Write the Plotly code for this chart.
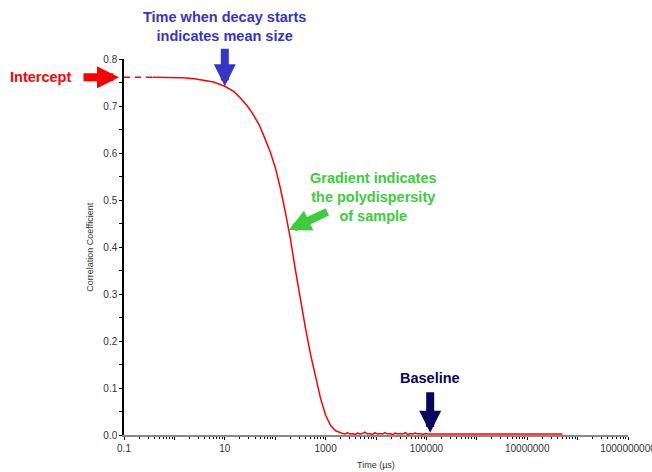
import plotly.graph_objects as go

# Correlogram: correlation coefficient versus delay time (µs)
time_us = [0.37, 0.6, 1.0, 1.5, 2.5, 4, 6, 10, 15, 20, 28, 37, 48, 63, 79,
           100, 126, 158, 200, 251, 316, 398, 501, 631, 794, 1000, 1259, 1585,
           1800, 2000, 2200, 2450, 2700, 3000, 3400, 3800, 4300, 4800, 5400,
           6000, 6800, 7600, 8500, 9500, 10700, 12000, 13500, 15000, 17000,
           19000, 21500, 24000, 27000, 30000, 34000, 38000, 43000, 48000,
           54000, 60000, 68000, 76000, 85000, 95000, 110000, 150000, 300000,
           1000000, 5000000, 20000000, 50000000]
corr = [0.761, 0.761, 0.761, 0.760, 0.758, 0.755, 0.751, 0.742, 0.731, 0.718,
        0.700, 0.681, 0.660, 0.630, 0.603,
        0.570, 0.526, 0.476, 0.418, 0.352, 0.288, 0.228, 0.172, 0.122, 0.078,
        0.042, 0.020, 0.009,
        0.006, 0.004, 0.003, 0.002, 0.005, 0.002, 0.003, 0.001, 0.004, 0.002,
        0.003, 0.006, 0.002, 0.003, 0.001, 0.005, 0.002, 0.003, 0.002, 0.005,
        0.002, 0.003, 0.001, 0.004, 0.002, 0.003, 0.002, 0.005, 0.001, 0.003,
        0.002, 0.004, 0.002, 0.003, 0.001, 0.003, 0.002, 0.002, 0.002,
        0.002, 0.002, 0.002, 0.002]

# Extrapolated intercept shown as a dashed segment
intercept_t = [0.1, 0.37]
intercept_v = [0.761, 0.761]

x_tick_vals = [0.1, 1, 10, 100, 1000, 1e4, 1e5, 1e6, 1e7, 1e8, 1e9]
x_tick_text = ["0.1", "", "10", "", "1000", "", "100000", "", "10000000", "",
               "1000000000"]
x_minor_vals = [k * d for d in x_tick_vals[:-1] for k in range(2, 10)]

RED = "#ff0000"
BLUE = "#3535c8"
GREEN = "#3ccc3c"
NAVY = "#06065e"
FAMILY = "Liberation Sans, Arial, sans-serif"

fig = go.Figure()
fig.add_trace(go.Scatter(x=intercept_t, y=intercept_v, mode="lines",
                         line=dict(color=RED, width=1.5, dash="6px,5px"),
                         hoverinfo="skip"))
fig.add_trace(go.Scatter(x=time_us, y=corr, mode="lines",
                         line=dict(color=RED, width=1.5)))

lbl_font = dict(family=FAMILY, size=14.5)
arrow_style = dict(showarrow=True, arrowhead=2, arrowsize=0.55, arrowwidth=8)

annotations = [
    # Intercept
    dict(text="<b>Intercept</b>", xref="paper", x=-0.101, xanchor="right",
         yref="y", y=0.761, showarrow=False, font=dict(lbl_font, color=RED)),
    dict(text="", xref="x", x=-1, yref="y", y=0.761, ax=-42, ay=0,
         arrowcolor=RED, standoff=5, **arrow_style),
    # Decay time
    dict(text="<b>Time when decay starts<br>indicates mean size</b>",
         xref="x", x=1.0, xanchor="center", yref="paper", y=1.0876,
         yanchor="middle", showarrow=False, font=dict(lbl_font, color=BLUE)),
    dict(text="", xref="x", x=1.0, yref="y", y=0.742, ax=0, ay=-39,
         arrowcolor=BLUE, **arrow_style),
    # Gradient
    dict(text="<b>Gradient indicates<br>the polydispersity<br>of sample</b>",
         xref="x", x=3.945, yref="y", y=0.507, showarrow=False,
         font=dict(lbl_font, color=GREEN)),
    dict(text="", xref="x", x=2.27, yref="y", y=0.436, ax=40, ay=-19,
         arrowcolor=GREEN, **arrow_style),
    # Baseline
    dict(text="<b>Baseline</b>", xref="x", x=5.075, yref="y", y=0.122,
         showarrow=False, font=dict(lbl_font, color=NAVY)),
    dict(text="", xref="x", x=5.075, yref="y", y=0.005, ax=0, ay=-42,
         arrowcolor=NAVY, **arrow_style),
    # Axis titles
    dict(text="Correlation Coefficient", xref="paper", x=-0.068,
         xanchor="center", yref="paper", y=0.5, yanchor="middle",
         textangle=-90, showarrow=False,
         font=dict(family=FAMILY, size=9, color="#333")),
    dict(text="Time (µs)", xref="paper", x=0.5, xanchor="center",
         yref="paper", y=-0.08, yanchor="middle", showarrow=False,
         font=dict(family=FAMILY, size=9, color="#333")),
]

fig.update_layout(
    width=652, height=472,
    margin=dict(l=123.5, r=24, t=59, b=36.5),
    paper_bgcolor="white", plot_bgcolor="white",
    showlegend=False,
    font=dict(family=FAMILY, size=10, color="#333"),
    annotations=annotations,
)
fig.update_xaxes(
    type="log", range=[-1, 9], tickmode="array", tickvals=x_tick_vals,
    ticktext=x_tick_text, ticks="outside", ticklen=3, tickcolor="#000",
    ticklabeloverflow="allow", automargin=False,
    showline=True, linecolor="#888", linewidth=1.5, showgrid=False,
    zeroline=False,
    minor=dict(tickmode="array", tickvals=x_minor_vals, ticks="outside",
               ticklen=2, tickcolor="#000", showgrid=False),
)
fig.update_yaxes(
    range=[0, 0.8], dtick=0.1, tickformat=".1f", ticks="outside", ticklen=3,
    tickcolor="#000", showline=True, linecolor="#000", linewidth=1.5,
    showgrid=False, zeroline=False, automargin=False,
    minor=dict(dtick=0.05, ticks="outside", ticklen=3, tickcolor="#000",
               showgrid=False),
)

fig.write_html("out.html")
